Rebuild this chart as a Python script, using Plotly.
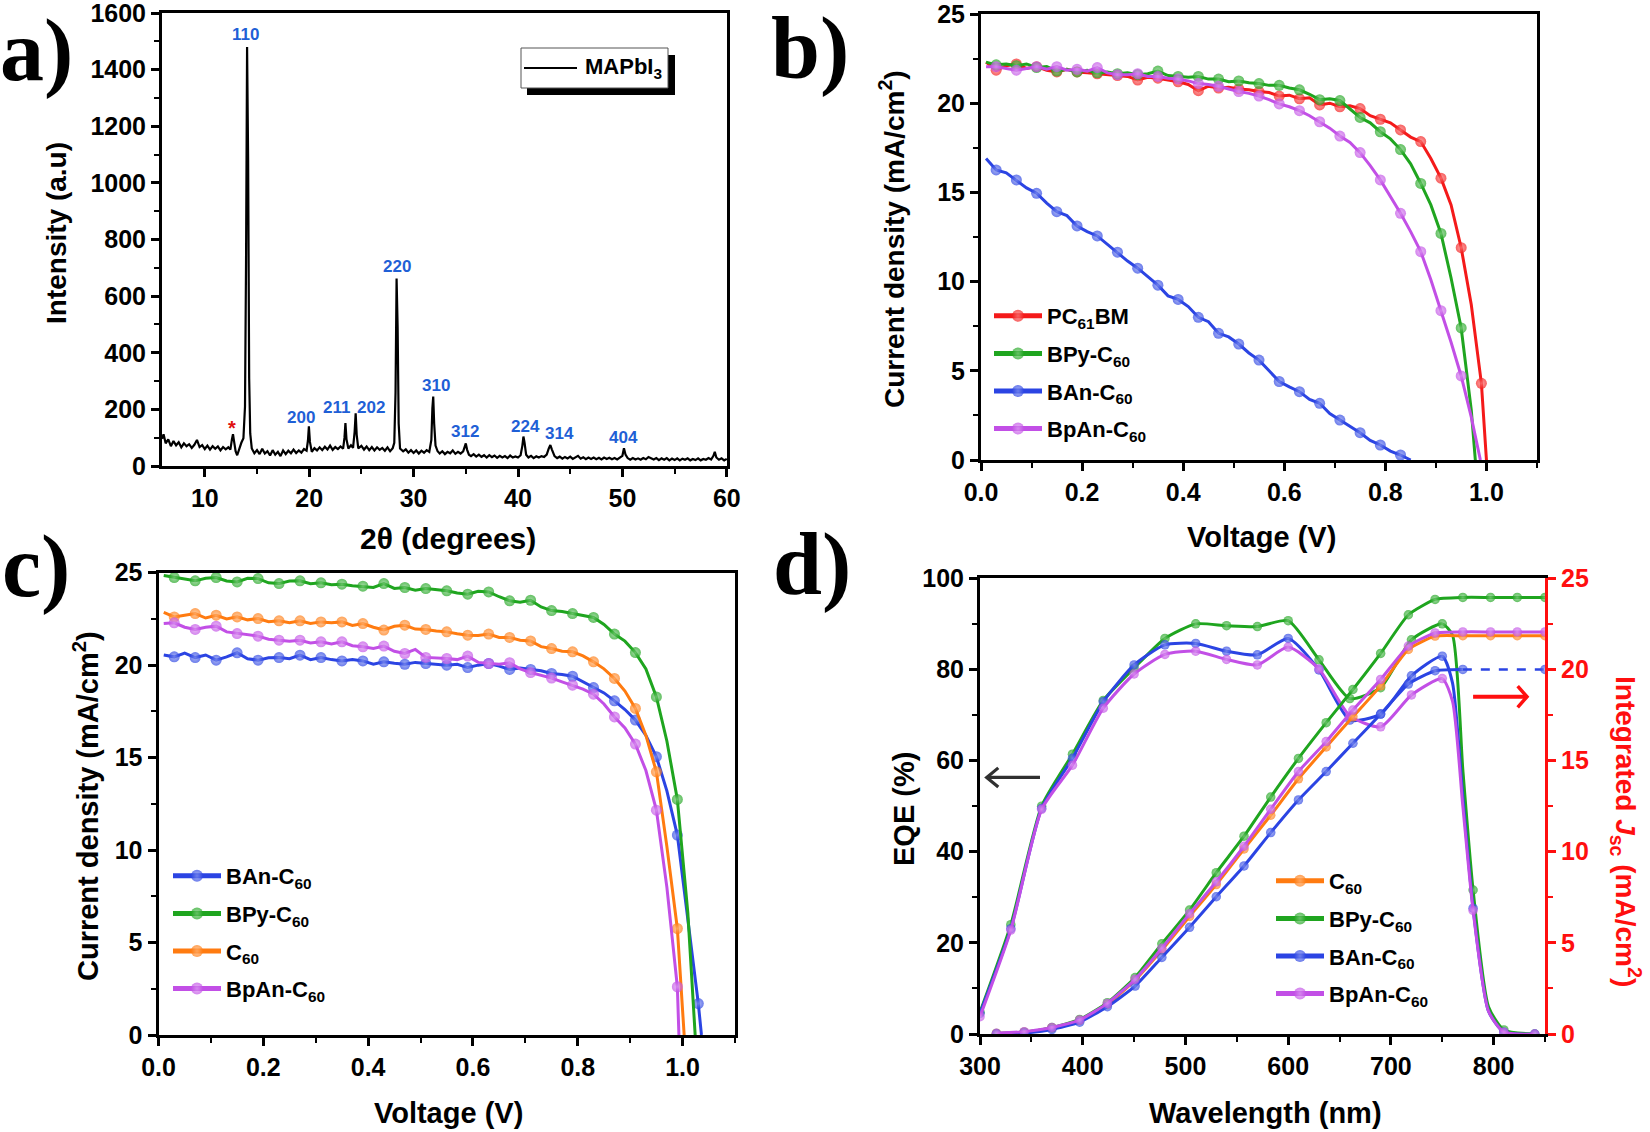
import plotly.graph_objects as go

W, H = 1650, 1132


def px(x):
    return x / W


def py(y):
    return 1 - y / H


SANS = "Liberation Sans, Arial, Helvetica, sans-serif"
SERIF = "Liberation Serif, Times New Roman, serif"

RED = "#f41a1a"
GREEN = "#1fa51f"
BLUE = "#2b44e3"
MAGENTA = "#c24fe6"
ORANGE = "#ff7b10"
LABEL_BLUE = "#1f5fd6"
AXIS_RED = "#ff0f0f"

# ---------------- Panel a : XRD of MAPbI3 ----------------
xrd_points = [
    (5.9, 96), (6.05, 112), (6.25, 80), (6.5, 94), (6.75, 70), (7.0, 88), (7.25, 73), (7.5, 84),
    (7.75, 66), (8.0, 80), (8.25, 70), (8.5, 77), (8.75, 64), (9.0, 75), (9.25, 92), (9.5, 67),
    (9.75, 74), (10.0, 60), (10.25, 72), (10.5, 58), (10.75, 70), (11.0, 61), (11.25, 69), (11.5, 55),
    (11.75, 67), (12.0, 59), (12.25, 66), (12.45, 58), (12.6, 95), (12.7, 112), (12.8, 88), (12.95, 52),
    (13.1, 38), (13.3, 62), (13.5, 82), (13.7, 98), (13.85, 210), (13.95, 720), (14.05, 1480), (14.15, 1080),
    (14.25, 310), (14.35, 115), (14.5, 62), (14.75, 45), (15.0, 56), (15.25, 42), (15.5, 61), (15.75, 44),
    (16.0, 52), (16.25, 37), (16.5, 56), (16.75, 40), (17.0, 50), (17.25, 35), (17.5, 55), (17.75, 42),
    (18.0, 54), (18.25, 45), (18.5, 58), (18.75, 46), (19.0, 55), (19.25, 47), (19.5, 60), (19.75, 54),
    (19.88, 90), (19.97, 140), (20.07, 85), (20.25, 50), (20.5, 63), (20.75, 55), (21.0, 66), (21.25, 56),
    (21.5, 68), (21.75, 58), (22.0, 72), (22.25, 57), (22.5, 67), (22.75, 60), (23.0, 69), (23.25, 61),
    (23.38, 100), (23.47, 152), (23.57, 95), (23.75, 62), (24.0, 73), (24.2, 64), (24.35, 120), (24.45, 186),
    (24.55, 110), (24.7, 62), (25.0, 71), (25.25, 58), (25.5, 69), (25.75, 56), (26.0, 67), (26.25, 55),
    (26.5, 66), (26.75, 57), (27.0, 64), (27.25, 54), (27.5, 66), (27.75, 52), (28.0, 63), (28.15, 82),
    (28.27, 260), (28.37, 662), (28.47, 490), (28.57, 150), (28.7, 62), (29.0, 52), (29.25, 59), (29.5, 47),
    (29.75, 56), (30.0, 46), (30.25, 55), (30.5, 44), (30.75, 54), (31.0, 47), (31.25, 56), (31.5, 50),
    (31.7, 92), (31.8, 205), (31.88, 245), (31.97, 150), (32.1, 72), (32.3, 52), (32.5, 44), (32.75, 52),
    (33.0, 42), (33.25, 50), (33.5, 45), (33.75, 55), (34.0, 43), (34.25, 50), (34.5, 44), (34.75, 52),
    (34.9, 70), (35.0, 80), (35.12, 58), (35.3, 40), (35.5, 35), (35.75, 42), (36.0, 33), (36.25, 40),
    (36.5, 32), (36.75, 38), (37.0, 30), (37.25, 38), (37.5, 31), (37.75, 37), (38.0, 29), (38.25, 36),
    (38.5, 30), (38.75, 35), (39.0, 28), (39.25, 37), (39.5, 30), (39.75, 34), (40.0, 30), (40.25, 38),
    (40.42, 72), (40.52, 104), (40.62, 84), (40.78, 40), (41.0, 30), (41.25, 36), (41.5, 28), (41.75, 34),
    (42.0, 30), (42.25, 35), (42.5, 32), (42.75, 40), (42.95, 62), (43.1, 74), (43.25, 58), (43.5, 35),
    (43.75, 28), (44.0, 33), (44.25, 26), (44.5, 32), (44.75, 27), (45.0, 33), (45.25, 25), (45.5, 30),
    (45.75, 36), (46.0, 26), (46.25, 31), (46.5, 24), (46.75, 30), (47.0, 25), (47.25, 30), (47.5, 24),
    (47.75, 29), (48.0, 23), (48.25, 30), (48.5, 25), (48.75, 29), (49.0, 24), (49.25, 28), (49.5, 23),
    (49.75, 30), (50.0, 36), (50.15, 63), (50.3, 40), (50.5, 28), (50.75, 22), (51.0, 28), (51.25, 23),
    (51.5, 27), (51.75, 22), (52.0, 28), (52.25, 24), (52.5, 32), (52.75, 26), (53.0, 23), (53.25, 28),
    (53.5, 21), (53.75, 27), (54.0, 22), (54.25, 28), (54.5, 20), (54.75, 26), (55.0, 21), (55.25, 27),
    (55.5, 20), (55.75, 26), (56.0, 22), (56.25, 27), (56.5, 20), (56.75, 25), (57.0, 21), (57.25, 27),
    (57.5, 20), (57.75, 25), (58.0, 22), (58.25, 28), (58.5, 23), (58.72, 36), (58.85, 50), (59.0, 30),
    (59.25, 22), (59.5, 27), (59.75, 20), (60.0, 25),
]
two_theta = [p[0] for p in xrd_points]
intensity = [p[1] for p in xrd_points]

peak_names = ["110", "200", "211", "202", "220", "310", "312", "224", "314", "404"]
peak_label_x = [13.85, 19.2, 22.6, 25.9, 28.45, 32.1, 34.9, 40.7, 44.0, 50.15]
peak_label_y = [1523, 172, 206, 206, 703, 286, 121, 141, 116, 101]
impurity_x = 12.65
impurity_y = 133

# ---------------- Panels b / c : J-V curves ----------------
V_GRID = [0.01, 0.03, 0.05, 0.07, 0.09, 0.11, 0.13, 0.15, 0.17, 0.19, 0.21, 0.23, 0.25,
          0.27, 0.29, 0.31, 0.33, 0.35, 0.37, 0.39, 0.41, 0.43, 0.45, 0.47, 0.49, 0.51,
          0.53, 0.55, 0.57, 0.59, 0.61, 0.63, 0.65, 0.67, 0.69, 0.71, 0.73, 0.75, 0.77,
          0.79, 0.81, 0.83, 0.85, 0.87, 0.89, 0.91, 0.93, 0.95, 0.97, 0.99, 1.01, 1.03]

# panel b
b_pcbm = [22.3, 21.85, 22.1, 22.2, 21.95, 22.05, 21.85, 21.75, 21.9, 21.75, 21.7, 21.65, 21.6,
          21.55, 21.5, 21.3, 21.45, 21.4, 21.3, 21.2, 21.05, 20.7, 20.95, 20.85, 20.9, 20.8,
          20.75, 20.65, 20.6, 20.4, 20.45, 20.25, 20.3, 19.9, 20.0, 19.8, 19.85, 19.7, 19.3,
          19.1, 18.9, 18.5, 18.1, 17.85, 16.9, 15.8, 14.3, 11.9, 8.7, 4.3]
b_pcbm_voc = 1.0
b_bpy = [22.3, 22.15, 22.2, 22.1, 22.2, 22.0, 22.05, 21.8, 21.9, 21.75, 21.85, 21.7, 21.75,
         21.65, 21.7, 21.6, 21.65, 21.8, 21.55, 21.5, 21.45, 21.5, 21.35, 21.35, 21.2, 21.25,
         21.15, 21.1, 21.0, 21.0, 20.85, 20.75, 20.5, 20.2, 20.25, 20.15, 19.7, 19.2, 18.9,
         18.4, 18.0, 17.4, 16.6, 15.5, 14.3, 12.7, 10.2, 7.4, 2.8]
b_bpy_voc = 0.978
b_ban = [16.9, 16.26, 16.1, 15.7, 15.25, 14.95, 14.4, 13.92, 13.7, 13.12, 12.8, 12.56, 12.1,
         11.65, 11.15, 10.75, 10.3, 9.8, 9.2, 9.0, 8.6, 8.0, 7.75, 7.1, 6.9, 6.5, 6.0, 5.6,
         5.0, 4.4, 4.1, 3.83, 3.4, 3.18, 2.6, 2.24, 1.9, 1.53, 1.1, 0.84, 0.5, 0.28]
b_ban_voc = 0.85
b_bpan = [22.05, 22.05, 21.95, 21.85, 21.95, 22.05, 21.9, 22.05, 21.85, 21.9, 21.8, 22.0, 21.7,
          21.6, 21.6, 21.65, 21.5, 21.5, 21.4, 21.35, 21.25, 21.1, 21.05, 20.95, 20.8, 20.65,
          20.55, 20.4, 20.2, 19.96, 19.8, 19.58, 19.3, 18.96, 18.6, 18.16, 17.8, 17.23, 16.5,
          15.7, 14.8, 13.83, 12.8, 11.68, 10.1, 8.37, 6.6, 4.71, 2.4]
b_bpan_voc = 0.988

# panel c
c_ban = [20.55, 20.45, 20.65, 20.41, 20.55, 20.27, 20.45, 20.67, 20.35, 20.27, 20.4, 20.41,
         20.35, 20.54, 20.3, 20.41, 20.3, 20.23, 20.3, 20.23, 20.05, 20.18, 20.1, 20.05, 20.15,
         20.09, 20.05, 20.0, 20.05, 19.87, 20.0, 20.09, 19.95, 19.77, 19.85, 19.77, 19.7, 19.55,
         19.5, 19.4, 19.1, 18.79, 18.5, 18.07, 17.6, 17.03, 16.2, 15.05, 13.2, 10.81, 6.4, 1.7]
c_ban_voc = 1.036
c_bpy = [24.85, 24.74, 24.65, 24.56, 24.7, 24.74, 24.55, 24.5, 24.7, 24.68, 24.45, 24.41, 24.55,
         24.56, 24.4, 24.45, 24.35, 24.38, 24.3, 24.27, 24.2, 24.41, 24.15, 24.2, 24.05, 24.14,
         24.1, 24.02, 23.9, 23.84, 24.0, 23.96, 23.7, 23.48, 23.4, 23.51, 23.15, 22.95, 22.9,
         22.79, 22.7, 22.58, 22.2, 21.68, 21.3, 20.68, 19.8, 18.28, 15.9, 12.74, 6.6]
c_bpy_voc = 1.024
c_c60 = [22.85, 22.61, 22.7, 22.79, 22.55, 22.7, 22.5, 22.61, 22.45, 22.52, 22.35, 22.4, 22.3,
         22.4, 22.25, 22.34, 22.3, 22.34, 22.15, 22.25, 22.05, 21.9, 22.1, 22.16, 21.95, 21.93,
         21.85, 21.8, 21.7, 21.62, 21.6, 21.68, 21.5, 21.5, 21.35, 21.31, 21.0, 20.9, 20.75,
         20.72, 20.5, 20.18, 19.8, 19.28, 18.6, 17.66, 16.2, 14.23, 10.2, 5.76]
c_c60_voc = 1.003
c_bpan = [22.25, 22.29, 22.05, 21.93, 22.05, 22.11, 21.8, 21.71, 21.65, 21.57, 21.4, 21.35, 21.3,
          21.35, 21.2, 21.26, 21.15, 21.26, 21.05, 20.99, 20.9, 21.03, 20.75, 20.63, 20.85, 20.42,
          20.4, 20.36, 20.3, 20.49, 20.15, 20.09, 20.05, 20.13, 19.8, 19.6, 19.45, 19.3, 19.1,
          18.92, 18.7, 18.43, 17.9, 17.2, 16.6, 15.73, 14.3, 12.16, 8.0, 2.61]
c_bpan_voc = 0.993

# ---------------- Panel d : EQE + integrated Jsc ----------------
eqe_wl = [300, 330, 360, 390, 420, 450, 480, 510, 540, 570, 600, 630, 660, 690, 720, 750,
          760, 770, 780, 795, 810, 840]
eqe_unmarked_wl = [760, 770, 795]
eqe_bpy = [4.8, 24.0, 50.0, 61.4, 73.2, 80.3, 86.8, 90.0, 89.6, 89.4, 90.7, 82.1, 73.6, 76.0,
           86.5, 90.0, 87.5, 58.0, 31.6, 6.0, 0.9, 0.0]
eqe_ban = [4.5, 23.1, 49.5, 60.5, 72.9, 81.0, 85.4, 85.7, 84.0, 83.2, 86.8, 79.9, 68.9, 70.2,
           78.6, 82.9, 77.0, 52.0, 27.6, 5.0, 0.4, 0.0]
eqe_bpan = [3.8, 22.8, 49.3, 59.0, 71.5, 79.0, 83.3, 84.0, 82.2, 81.0, 84.9, 80.1, 69.8, 67.4,
            74.4, 78.0, 73.0, 50.0, 27.1, 5.0, 0.4, 0.0]

jsc_wl = [316, 343, 370, 397, 424, 451, 477, 504, 530, 557, 583, 610, 637, 663, 690, 717, 743,
          770, 797, 823, 850]
jsc_c60 = [0.03, 0.1, 0.33, 0.75, 1.62, 2.95, 4.6, 6.45, 8.2, 10.15, 12.0, 14.0, 15.75, 17.4,
           19.1, 21.1, 21.83, 21.85, 21.85, 21.85, 21.85]
jsc_bpy = [0.03, 0.1, 0.35, 0.8, 1.72, 3.1, 4.95, 6.8, 8.85, 10.85, 13.0, 15.12, 17.08, 18.9,
           20.88, 23.0, 23.84, 23.95, 23.95, 23.95, 23.95]
jsc_ban = [0.0, 0.05, 0.25, 0.65, 1.5, 2.63, 4.2, 5.85, 7.53, 9.22, 11.05, 12.84, 14.4, 15.95,
           17.55, 19.2, 19.93, 20.0]
jsc_ban_tail_wl = [770, 850]
jsc_ban_tail = [20.0, 20.0]
jsc_bpan = [0.04, 0.13, 0.36, 0.77, 1.68, 3.0, 4.7, 6.6, 8.35, 10.3, 12.33, 14.4, 16.04, 17.77,
            19.45, 21.28, 22.0, 22.06, 22.06, 22.06, 22.06]

# ---------------- helpers ----------------


def light(hexcol, f=0.45):
    r, g, b = int(hexcol[1:3], 16), int(hexcol[3:5], 16), int(hexcol[5:7], 16)
    r, g, b = [int(c + (255 - c) * f) for c in (r, g, b)]
    return f"rgb({r},{g},{b})"


def marker(color, sizes):
    return dict(size=sizes, color=color, line=dict(width=0),
                gradient=dict(type="radial", color=light(color)))


MS_JV = 11
MS_D = 9.5

fig = go.Figure()

# panel a
fig.add_trace(go.Scatter(x=two_theta, y=intensity, mode="lines",
                         line=dict(color="black", width=2.2),
                         xaxis="x", yaxis="y", showlegend=False, name="MAPbI3"))


def jv(j, voc, color, name, xa, ya, leg):
    xs = V_GRID[:len(j)] + [voc]
    ys = list(j) + [0]
    sizes = [MS_JV if k % 2 == 1 else 0 for k in range(len(j))] + [0]
    return go.Scatter(x=xs, y=ys, mode="lines+markers", name=name,
                      line=dict(color=color, width=3), marker=marker(color, sizes),
                      xaxis=xa, yaxis=ya, legend=leg, legendgroup=leg + name)


# panel b
fig.add_trace(jv(b_pcbm, b_pcbm_voc, RED, "PC<sub>61</sub>BM", "x2", "y2", "legend"))
fig.add_trace(jv(b_bpy, b_bpy_voc, GREEN, "BPy-C<sub>60</sub>", "x2", "y2", "legend"))
fig.add_trace(jv(b_ban, b_ban_voc, BLUE, "BAn-C<sub>60</sub>", "x2", "y2", "legend"))
fig.add_trace(jv(b_bpan, b_bpan_voc, MAGENTA, "BpAn-C<sub>60</sub>", "x2", "y2", "legend"))

# panel c
fig.add_trace(jv(c_ban, c_ban_voc, BLUE, "BAn-C<sub>60</sub>", "x3", "y3", "legend2"))
fig.add_trace(jv(c_bpy, c_bpy_voc, GREEN, "BPy-C<sub>60</sub>", "x3", "y3", "legend2"))
fig.add_trace(jv(c_c60, c_c60_voc, ORANGE, "C<sub>60</sub>", "x3", "y3", "legend2"))
fig.add_trace(jv(c_bpan, c_bpan_voc, MAGENTA, "BpAn-C<sub>60</sub>", "x3", "y3", "legend2"))

# panel d : EQE (left axis)
eqe_sizes = [0 if w in eqe_unmarked_wl else MS_D for w in eqe_wl]
for vals, col in [(eqe_bpy, GREEN), (eqe_ban, BLUE), (eqe_bpan, MAGENTA)]:
    fig.add_trace(go.Scatter(x=eqe_wl, y=vals, mode="lines+markers",
                             line=dict(color=col, width=3, shape="spline", smoothing=0.6),
                             marker=marker(col, eqe_sizes),
                             xaxis="x4", yaxis="y4", showlegend=False))

# panel d : integrated Jsc (right axis)
for vals, col, name in [(jsc_c60, ORANGE, "C<sub>60</sub>"), (jsc_bpy, GREEN, "BPy-C<sub>60</sub>"),
                        (jsc_ban, BLUE, "BAn-C<sub>60</sub>"), (jsc_bpan, MAGENTA, "BpAn-C<sub>60</sub>")]:
    fig.add_trace(go.Scatter(x=jsc_wl[:len(vals)], y=vals, mode="lines+markers", name=name,
                             line=dict(color=col, width=3, shape="spline", smoothing=0.5),
                             marker=marker(col, [MS_D] * len(vals)),
                             xaxis="x4", yaxis="y5", legend="legend3", legendgroup="d" + name))
fig.add_trace(go.Scatter(x=jsc_ban_tail_wl, y=jsc_ban_tail, mode="lines+markers",
                         line=dict(color=BLUE, width=2.5, dash="dash"),
                         marker=marker(BLUE, [0, MS_D]),
                         xaxis="x4", yaxis="y5", showlegend=False))

# ---------------- axes ----------------
TICKFONT = dict(family=SANS, size=25, color="black", weight="bold")


def ax(**kw):
    d = dict(showline=True, linewidth=3, linecolor="black", mirror=True,
             ticks="outside", ticklen=8, tickwidth=2.5, tickcolor="black",
             showgrid=False, zeroline=False, tickfont=TICKFONT, automargin=False,
             ticklabeloverflow="allow")
    d.update(kw)
    return d


def minor(dt, color="black"):
    return dict(dtick=dt, ticks="outside", ticklen=5, tickwidth=2, tickcolor=color, showgrid=False)


fig.update_layout(
    width=W, height=H,
    margin=dict(l=0, r=0, t=0, b=0, autoexpand=False),
    paper_bgcolor="white", plot_bgcolor="white",
    showlegend=True,
    xaxis=ax(domain=[px(162), px(727)], range=[5.9, 60.02], tick0=0, dtick=10,
             minor=minor(5), anchor="y"),
    yaxis=ax(domain=[py(466), py(13)], range=[0, 1600], tick0=0, dtick=200,
             minor=minor(100), anchor="x"),
    xaxis2=ax(domain=[px(981), px(1537)], range=[0, 1.1], tick0=0, dtick=0.2,
              tickformat=".1f", minor=minor(0.1), anchor="y2"),
    yaxis2=ax(domain=[py(460), py(14)], range=[0, 25], tick0=0, dtick=5,
              minor=minor(2.5), anchor="x2"),
    xaxis3=ax(domain=[px(158.5), px(735)], range=[0, 1.1], tick0=0, dtick=0.2,
              tickformat=".1f", minor=minor(0.1), anchor="y3"),
    yaxis3=ax(domain=[py(1035), py(572.7)], range=[0, 25], tick0=0, dtick=5,
              minor=minor(2.5), anchor="x3"),
    xaxis4=ax(domain=[px(980), px(1545)], range=[300, 850], tick0=0, dtick=100,
              minor=minor(50), anchor="y4"),
    yaxis4=ax(domain=[py(1034), py(578.3)], range=[0, 100], tick0=0, dtick=20,
              minor=minor(10), anchor="x4", mirror=False),
    yaxis5=ax(overlaying="y4", side="right", anchor="x4", range=[0, 25], tick0=0, dtick=5,
              minor=minor(2.5, AXIS_RED), mirror=False, linecolor=AXIS_RED, tickcolor=AXIS_RED,
              tickfont=dict(family=SANS, size=25, color=AXIS_RED, weight="bold")),
)

LEGFONT = dict(family=SANS, size=22, color="black", weight="bold")
for key, lx, ly in [("legend", 989, 295), ("legend2", 168, 855), ("legend3", 1271, 860)]:
    fig.update_layout({key: dict(x=px(lx), y=py(ly), xanchor="left", yanchor="top",
                                 font=LEGFONT, bgcolor="rgba(0,0,0,0)", borderwidth=0,
                                 tracegroupgap=6, itemsizing="constant", itemwidth=48)})

# ---------------- annotations ----------------
ann = []


def text(t, x, y, size=29, angle=0, color="black", family=SANS, xanchor="center", weight="bold"):
    ann.append(dict(text=t, x=px(x), y=py(y), xref="paper", yref="paper", showarrow=False,
                    xanchor=xanchor, yanchor="middle", textangle=angle,
                    font=dict(family=family, size=size, color=color, weight=weight)))


# axis titles
text("2θ (degrees)", 448, 538, size=30)
text("Intensity (a.u)", 56, 233, size=28, angle=-90)
text("Voltage (V)", 1261, 537, size=29)
text("Current density (mA/cm<sup>2</sup>)", 892, 239, size=28, angle=-90)
text("Voltage (V)", 448, 1113, size=29)
text("Current density (mA/cm<sup>2</sup>)", 86, 806, size=29, angle=-90)
text("Wavelength (nm)", 1265, 1113, size=29)
text("EQE (%)", 904, 809, size=29, angle=-90)
text("Integrated <i>J</i><sub>sc</sub> (mA/cm<sup>2</sup>)", 1626, 831, size=28, angle=90, color=AXIS_RED)

# panel letters
for lab, x, y in [("a)", 36, 51), ("b)", 810, 49), ("c)", 36, 566), ("d)", 812, 564)]:
    text(lab, x, y, size=88, family=SERIF)

# legend of panel a (with drop shadow)
text("MAPbI<sub>3</sub>", 583, 68, size=22, xanchor="left")

# XRD peak labels
for name, lx, ly in zip(peak_names, peak_label_x, peak_label_y):
    ann.append(dict(text=name, x=lx, y=ly, xref="x", yref="y", showarrow=False,
                    xanchor="center", yanchor="middle",
                    font=dict(family=SANS, size=17, color=LABEL_BLUE, weight="bold")))
ann.append(dict(text="*", x=impurity_x, y=impurity_y, xref="x", yref="y", showarrow=False,
                font=dict(family=SANS, size=20, color="#e01010", weight="bold")))

fig.update_layout(annotations=ann)

# ---------------- shapes ----------------
shapes = [
    # panel a legend shadow + box + line sample
    dict(type="rect", xref="paper", yref="paper", x0=px(527), x1=px(675), y0=py(95), y1=py(55),
         fillcolor="black", line=dict(width=0), layer="above"),
    dict(type="rect", xref="paper", yref="paper", x0=px(521), x1=px(668), y0=py(88), y1=py(48),
         fillcolor="white", line=dict(color="#555555", width=1), layer="above"),
    dict(type="line", xref="paper", yref="paper", x0=px(524), x1=px(577), y0=py(68), y1=py(68),
         line=dict(color="black", width=2.2), layer="above"),
    # black arrow (EQE -> left axis)
    dict(type="line", xref="x4", yref="y4", x0=358.4, x1=307.5, y0=56.3, y1=56.3,
         line=dict(color="#303030", width=3.2)),
    dict(type="path", xref="x4", yref="y4", path="M 317.8,58.4 L 306.5,56.3 L 317.8,54.2",
         line=dict(color="#303030", width=3.2)),
    # red arrow (Jsc -> right axis)
    dict(type="line", xref="x4", yref="y5", x0=780, x1=831, y0=18.5, y1=18.5,
         line=dict(color=AXIS_RED, width=4)),
    dict(type="path", xref="x4", yref="y5", path="M 823.4,19.08 L 832.5,18.5 L 823.4,17.92",
         line=dict(color=AXIS_RED, width=3.5)),
]
fig.update_layout(shapes=shapes)

fig.write_html("out.html", config={"displayModeBar": False},
               post_script="document.body.style.margin='0px';document.body.style.overflow='hidden';")
